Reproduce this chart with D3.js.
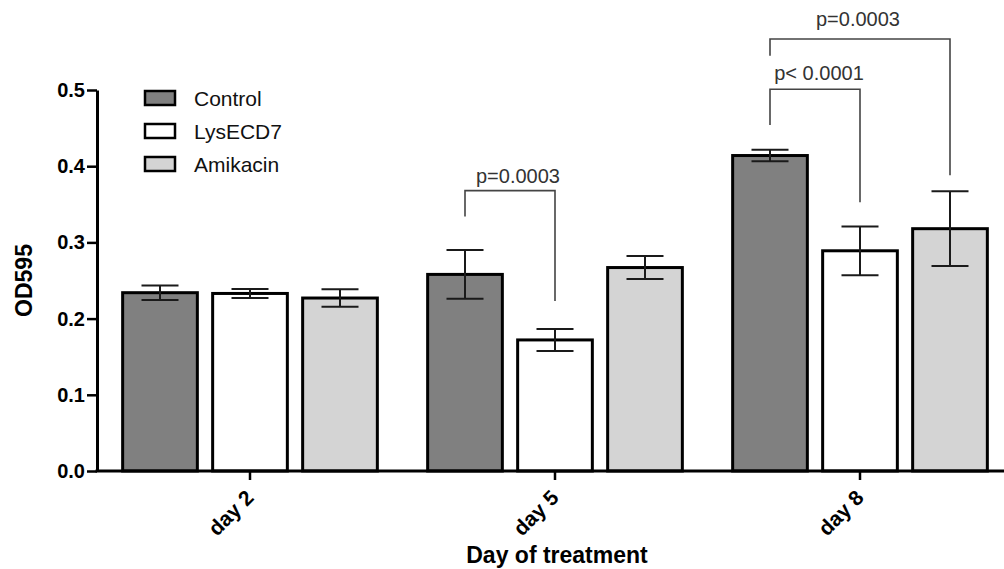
<!DOCTYPE html>
<html>
<head>
<meta charset="utf-8">
<script src="https://cdn.jsdelivr.net/npm/d3@7"></script>
<style>
  html, body { margin: 0; padding: 0; background: #fff; }
  svg { display: block; }
  text { font-family: "Liberation Sans", Arial, sans-serif; }
</style>
</head>
<body>
<svg id="chart" width="1004" height="569"></svg>
<script>
// ---- data ----
const days = ["day 2", "day 5", "day 8"];
const series = ["Control", "LysECD7", "Amikacin"];
const controlMean = [0.234, 0.258, 0.414];
const controlErr  = [0.0096, 0.032, 0.0075];
const lysMean     = [0.233, 0.172, 0.289];
const lysErr      = [0.006, 0.0145, 0.032];
const amiMean     = [0.227, 0.267, 0.318];
const amiErr      = [0.0115, 0.015, 0.049];
const yTicks = [0.0, 0.1, 0.2, 0.3, 0.4, 0.5];
// significance brackets: day, from series, to series, top, left leg end, right leg end, label
const annotations = [
  { day: "day 5", a: "Control", b: "LysECD7", top: 0.368, leftEnd: 0.334, rightEnd: 0.223, label: "p=0.0003", dx: 8, dy: 8 },
  { day: "day 8", a: "Control", b: "LysECD7", top: 0.501, leftEnd: 0.454, rightEnd: 0.3526, label: "p< 0.0001", dx: 4, dy: 9 },
  { day: "day 8", a: "Control", b: "Amikacin", top: 0.567, leftEnd: 0.545, rightEnd: 0.388, label: "p=0.0003", dx: -2, dy: 13 }
];

const fills = { "Control": "#808080", "LysECD7": "#ffffff", "Amikacin": "#d4d4d4" };
const means = { "Control": controlMean, "LysECD7": lysMean, "Amikacin": amiMean };
const errs  = { "Control": controlErr, "LysECD7": lysErr, "Amikacin": amiErr };

const rows = [];
days.forEach((d, i) => series.forEach(s => rows.push({ day: d, s, v: means[s][i], e: errs[s][i] })));

const svg = d3.select("#chart");
const axisLeft = 97, axisBottom = 471, axisTop = 90;

const y = d3.scaleLinear().domain([0, 0.5]).range([axisBottom, axisTop]);
const x0 = d3.scaleBand().domain(days).range([97.5, 1012.5]).paddingInner(0).paddingOuter(0);
const x1 = d3.scaleBand().domain(series).range([17.5, 287.5]).paddingInner(0.17).paddingOuter(0.085);
const cx = (d, s) => x0(d) + x1(s) + x1.bandwidth() / 2;

// bars
svg.append("g").selectAll("rect").data(rows).join("rect")
  .attr("x", d => x0(d.day) + x1(d.s))
  .attr("y", d => y(d.v))
  .attr("width", x1.bandwidth())
  .attr("height", d => y(0) - y(d.v))
  .attr("fill", d => fills[d.s])
  .attr("stroke", "#000")
  .attr("stroke-width", 3);

// error bars
const capW = 37;
const eg = svg.append("g").attr("stroke", "#1a1a1a").attr("stroke-width", 2).attr("fill", "none");
rows.forEach(d => {
  const c = cx(d.day, d.s);
  eg.append("line").attr("x1", c).attr("x2", c).attr("y1", y(d.v + d.e)).attr("y2", y(d.v - d.e));
  eg.append("line").attr("x1", c - capW / 2).attr("x2", c + capW / 2).attr("y1", y(d.v + d.e)).attr("y2", y(d.v + d.e));
  eg.append("line").attr("x1", c - capW / 2).attr("x2", c + capW / 2).attr("y1", y(d.v - d.e)).attr("y2", y(d.v - d.e));
});

// brackets
const bg = svg.append("g");
annotations.forEach(a => {
  const xa = cx(a.day, a.a), xb = cx(a.day, a.b);
  bg.append("path")
    .attr("d", `M${xa},${y(a.leftEnd)}V${y(a.top)}H${xb}V${y(a.rightEnd)}`)
    .attr("fill", "none").attr("stroke", "#444").attr("stroke-width", 1.6);
  bg.append("text")
    .attr("x", (xa + xb) / 2 + a.dx)
    .attr("y", y(a.top) - a.dy)
    .attr("text-anchor", "middle")
    .attr("font-size", 20)
    .attr("fill", "#333")
    .text(a.label);
});

// y axis
const yAxis = d3.axisLeft(y).tickValues(yTicks).tickFormat(d3.format(".1f")).tickSize(10).tickSizeOuter(0);
const gy = svg.append("g").attr("transform", `translate(${axisLeft},0)`).call(yAxis);
gy.select(".domain").attr("stroke", "#000").attr("stroke-width", 3);
gy.selectAll(".tick line").attr("stroke", "#000").attr("stroke-width", 2.5);
gy.selectAll(".tick text").attr("font-size", 20).attr("font-weight", "bold").attr("fill", "#000")
  .attr("font-family", "'Liberation Sans', Arial, sans-serif").attr("x", -12);

// x axis
const xAxis = d3.axisBottom(x0).tickSize(9).tickSizeOuter(0);
const gx = svg.append("g").attr("transform", `translate(0,${axisBottom})`).call(xAxis);
gx.select(".domain").attr("stroke", "#000").attr("stroke-width", 3).attr("d", `M${axisLeft - 1.5},0H1004`);
gx.selectAll(".tick line").attr("stroke", "#000").attr("stroke-width", 2.5);
gx.selectAll(".tick text")
  .attr("font-size", 21).attr("font-weight", "bold").attr("fill", "#000")
  .attr("font-family", "'Liberation Sans', Arial, sans-serif")
  .attr("text-anchor", "end")
  .attr("dy", null)
  .attr("y", 0)
  .attr("transform", "translate(5,28) rotate(-45)");

// axis titles
svg.append("text")
  .attr("transform", `translate(32,${(axisTop + axisBottom) / 2}) rotate(-90)`)
  .attr("text-anchor", "middle")
  .attr("font-size", 23).attr("font-weight", "bold")
  .text("OD595");
svg.append("text")
  .attr("x", 557).attr("y", 563)
  .attr("text-anchor", "middle")
  .attr("font-size", 23).attr("font-weight", "bold")
  .text("Day of treatment");

// legend
const lg = svg.append("g");
series.forEach((s, i) => {
  const yy = 98 + i * 33;
  lg.append("rect").attr("x", 145).attr("y", yy - 7).attr("width", 30).attr("height", 14)
    .attr("fill", fills[s]).attr("stroke", "#000").attr("stroke-width", 2.5);
  lg.append("text").attr("x", 194).attr("y", yy).attr("dy", "0.36em")
    .attr("font-size", 21).attr("fill", "#111").text(s);
});
</script>
</body>
</html>
